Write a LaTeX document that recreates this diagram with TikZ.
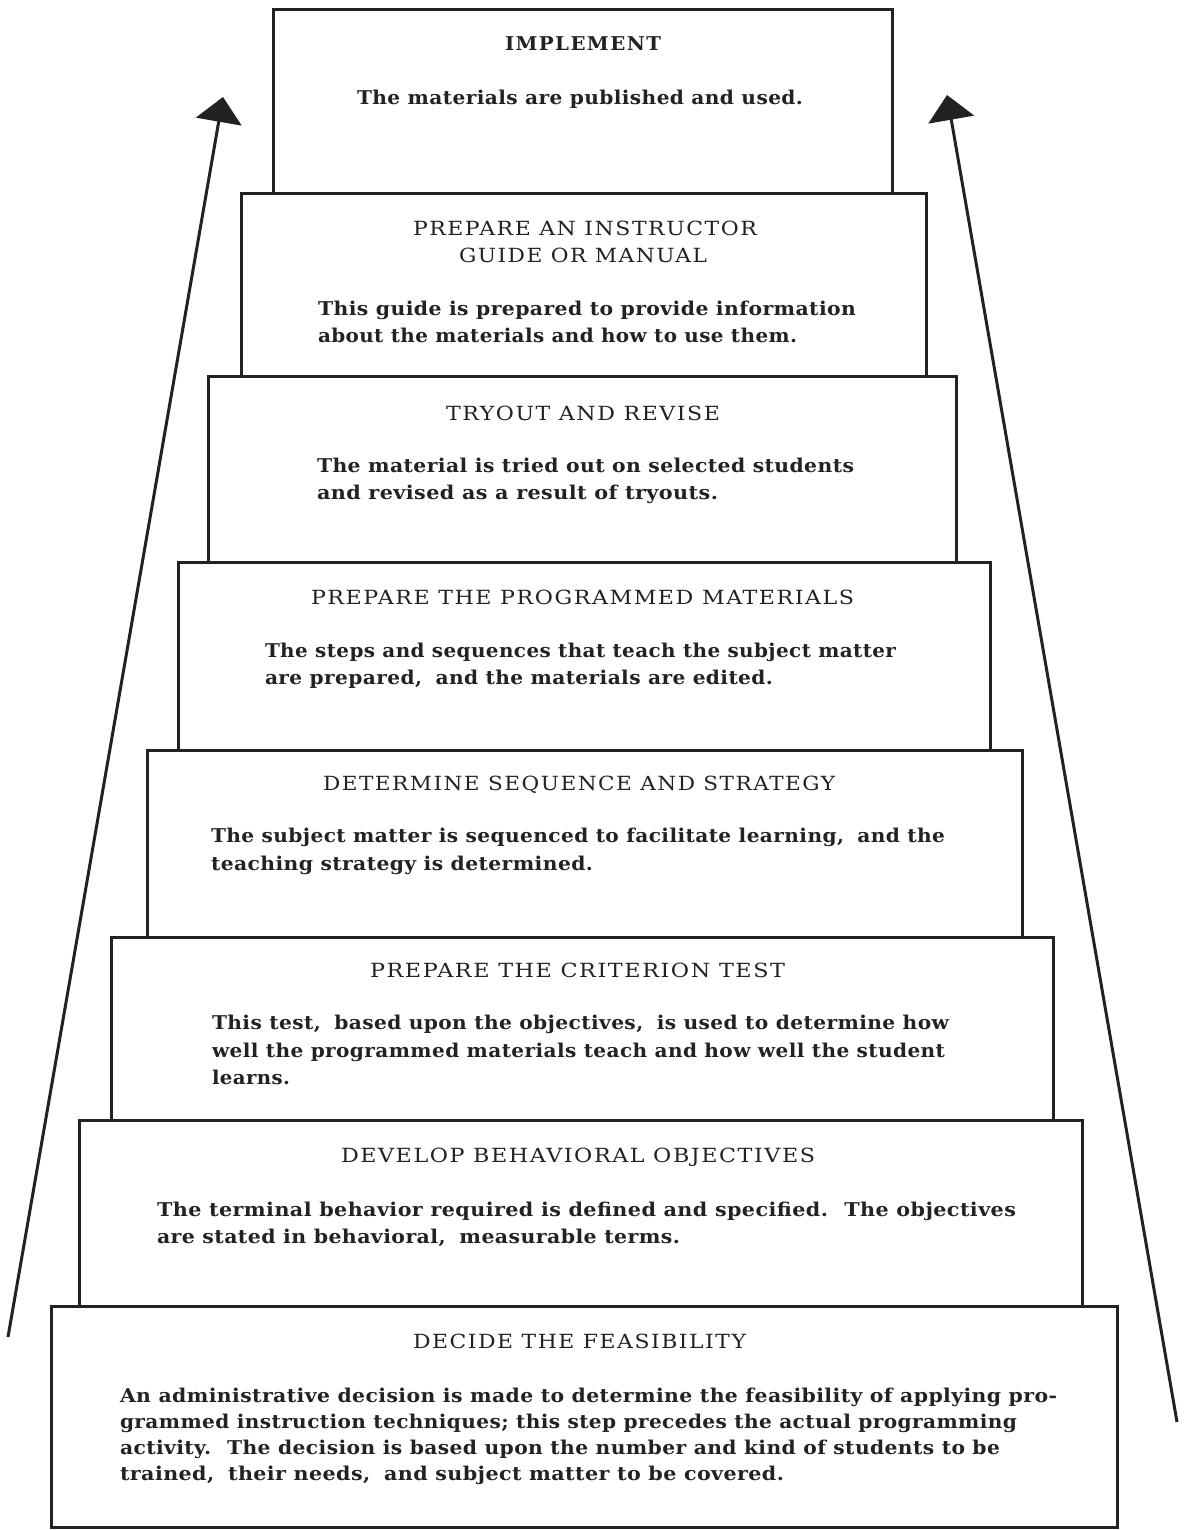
\documentclass[tikz,border=0pt]{standalone}
\usepackage{fontspec}
\usepackage{graphicx}
\setmainfont{DejaVu Serif}
\newfontfamily\stepbodyfont[LetterSpace=2]{DejaVu Serif}
\newfontfamily\steptitlefont[LetterSpace=7]{DejaVu Serif}
\usetikzlibrary{arrows.meta}
\definecolor{ink}{HTML}{222222}
\tikzset{
  stepframe/.style={draw=ink, line width=3pt, inner sep=0pt, outer sep=0pt, anchor=north west},
  txt/.style={anchor=base west, inner sep=0pt, outer sep=0pt, text=ink},
  uparrow/.style={draw=ink, line width=3pt, -{Triangle[length=25pt,width=46pt]}}
}
\newcommand\gap{\hspace{0.3em}}
% body line: name, x, baseline y, width, text
\newcommand\stepbody[5]{\node[txt] (#1) at (#2,#3) {\resizebox{#4pt}{\height}{\stepbodyfont\bfseries\fontsize{19}{22}\selectfont #5}};}
% title line
\newcommand\steptitle[5]{\node[txt] (#1) at (#2,#3) {\resizebox{#4pt}{\height}{\steptitlefont\fontsize{19.5}{22}\selectfont #5}};}
\begin{document}
\begin{tikzpicture}[x=1pt,y=-1pt]
\useasboundingbox (0,0) rectangle (1184,1530);
\fill[white] (0,0) rectangle (1184,1530);

% step boxes
\node[stepframe, minimum width=619pt, minimum height=184pt] (s1) at (273,10) {};
\node[stepframe, minimum width=685pt, minimum height=182pt] (s2) at (241,194) {};
\node[stepframe, minimum width=748pt, minimum height=186pt] (s3) at (208,376) {};
\node[stepframe, minimum width=812pt, minimum height=188pt] (s4) at (178,562) {};
\node[stepframe, minimum width=875pt, minimum height=187pt] (s5) at (147,750) {};
\node[stepframe, minimum width=942pt, minimum height=183pt] (s6) at (111,937) {};
\node[stepframe, minimum width=1003pt, minimum height=186pt] (s7) at (79,1120) {};
\node[stepframe, minimum width=1066pt, minimum height=221pt] (s8) at (51,1306) {};

% box 1
\node[txt] (t1) at (505,51) {\resizebox{156pt}{\height}{\steptitlefont\bfseries\fontsize{19}{22}\selectfont IMPLEMENT}};
\stepbody{b1a}{357}{105}{446}{The materials are published and used.}

% box 2
\steptitle{t2a}{413}{236}{344}{PREPARE AN INSTRUCTOR}
\steptitle{t2b}{459}{262}{248}{GUIDE OR MANUAL}
\stepbody{b2a}{318}{315}{538}{This guide is prepared to provide information}
\stepbody{b2b}{318}{342}{479}{about the materials and how to use them.}

% box 3
\steptitle{t3}{446}{420}{274}{TRYOUT AND REVISE}
\stepbody{b3a}{317}{472}{537}{The material is tried out on selected students}
\stepbody{b3b}{317}{499}{401}{and revised as a result of tryouts.}

% box 4
\steptitle{t4}{311}{604}{543}{PREPARE THE PROGRAMMED MATERIALS}
\stepbody{b4a}{265}{657}{631}{The steps and sequences that teach the subject matter}
\stepbody{b4b}{265}{684}{508}{are prepared,\gap{} and the materials are edited.}

% box 5
\steptitle{t5}{323}{790}{512}{DETERMINE SEQUENCE AND STRATEGY}
\stepbody{b5a}{211}{842}{734}{The subject matter is sequenced to facilitate learning,\gap{} and the}
\stepbody{b5b}{211}{870}{382}{teaching strategy is determined.}

% box 6
\steptitle{t6}{370}{977}{415}{PREPARE THE CRITERION TEST}
\stepbody{b6a}{212}{1029}{737}{This test,\gap{} based upon the objectives,\gap{} is used to determine how}
\stepbody{b6b}{212}{1057}{733}{well the programmed materials teach and how well the student}
\stepbody{b6c}{212}{1084}{78}{learns.}

% box 7
\steptitle{t7}{341}{1162}{474}{DEVELOP BEHAVIORAL OBJECTIVES}
\stepbody{b7a}{157}{1216}{859}{The terminal behavior required is defined and specified.\gap{} The objectives}
\stepbody{b7b}{157}{1243}{523}{are stated in behavioral,\gap{} measurable terms.}

% box 8
\steptitle{t8}{413}{1348}{333}{DECIDE THE FEASIBILITY}
\stepbody{b8a}{120}{1402}{937}{An administrative decision is made to determine the feasibility of applying pro-}
\stepbody{b8b}{120}{1428}{897}{grammed instruction techniques; this step precedes the actual programming}
\stepbody{b8c}{120}{1454}{880}{activity.\gap{} The decision is based upon the number and kind of students to be}
\stepbody{b8d}{120}{1480}{664}{trained,\gap{} their needs,\gap{} and subject matter to be covered.}

% arrows
\coordinate (la) at (8,1337);
\coordinate (lb) at (223,97);
\coordinate (ra) at (1177,1422);
\coordinate (rb) at (947,95);
\draw[uparrow] (la) -- (lb);
\draw[uparrow] (ra) -- (rb);
\end{tikzpicture}
\end{document}
